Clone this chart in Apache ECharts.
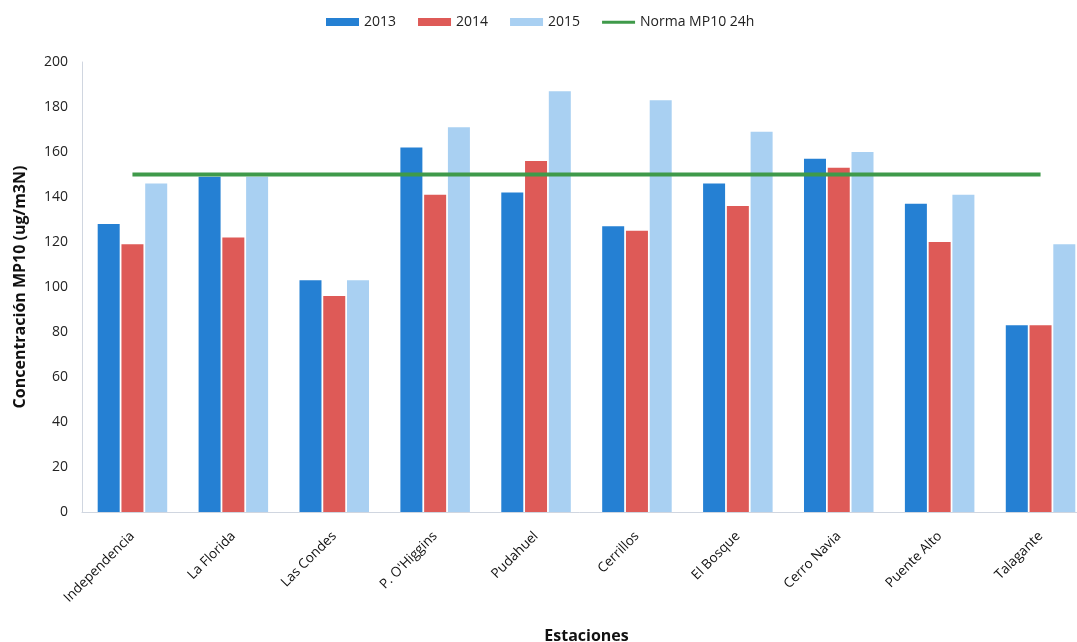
<!DOCTYPE html>
<html>
<head>
<meta charset="utf-8">
<script src="https://cdn.jsdelivr.net/npm/echarts@6/dist/echarts.min.js"></script>
<style>html,body{margin:0;padding:0;background:#fff;}#c{width:1077px;height:642px;}</style>
</head>
<body>
<div id="c"></div>
<script>
const categories = ['Independencia','La Florida','Las Condes',"P. O'Higgins",'Pudahuel','Cerrillos','El Bosque','Cerro Navia','Puente Alto','Talagante'];
const v2013 = [128,149,103,162,142,127,146,157,137,83];
const v2014 = [119,122,96,141,156,125,136,153,120,83];
const v2015 = [146,149,103,171,187,183,169,160,141,119];
const norma = [150,150,150,150,150,150,150,150,150,150];
const yTicks = {min:0, max:200, interval:20};

const font = "'Open Sans', 'Noto Sans', sans-serif";
const chart = echarts.init(document.getElementById('c'));
chart.setOption({
  backgroundColor:'#ffffff',
  animation:false,
  textStyle:{fontFamily:font},
  legend:{
    top:10, left:321, itemWidth:33, itemHeight:8, itemGap:22,
    textStyle:{fontFamily:font,fontSize:14,color:'#222'},
    data:[
      {name:'2013',icon:'rect'},
      {name:'2014',icon:'rect'},
      {name:'2015',icon:'rect'},
      {name:'Norma MP10 24h',icon:'path://M0,0 M40,8 M0,2.5h40v3.5h-40z'}
    ]
  },
  grid:{left:82, right:-14, top:62, bottom:130, containLabel:false, outerBoundsMode:'none'},
  xAxis:{
    type:'category', data:categories,
    name:'Estaciones', nameLocation:'middle', nameGap:116,
    nameTextStyle:{fontFamily:font,fontSize:16,fontWeight:'bold',color:'#111'},
    axisLine:{lineStyle:{color:'#d0d6e0'}},
    axisTick:{lineStyle:{color:'#c8ced8'},length:5},
    axisLabel:{rotate:45, fontSize:13.5, color:'#111', margin:22, interval:0, fontFamily:font}
  },
  yAxis:{
    type:'value', min:yTicks.min, max:yTicks.max, interval:yTicks.interval,
    name:'Concentración MP10 (ug/m3N)', nameLocation:'middle', nameGap:54,
    nameTextStyle:{fontFamily:font,fontSize:16,fontWeight:'bold',color:'#111'},
    axisLine:{show:true,lineStyle:{color:'#d0d6e0'}},
    axisTick:{show:false},
    splitLine:{show:false},
    axisLabel:{fontSize:14,color:'#222',margin:14,fontFamily:font}
  },
  series:[
    {name:'2013',type:'bar',data:v2013,barWidth:22,barGap:'2%',itemStyle:{color:'#2580d3'}},
    {name:'2014',type:'bar',data:v2014,barWidth:22,barGap:'2%',itemStyle:{color:'#de5a57'}},
    {name:'2015',type:'bar',data:v2015,barWidth:22,barGap:'8%',itemStyle:{color:'#a9d0f2'}},
    {name:'Norma MP10 24h',type:'line',data:norma,symbol:'none',z:5,
     lineStyle:{color:'#3f9a4a',width:4},itemStyle:{color:'#3f9a4a'}}
  ]
});
</script>
</body>
</html>
